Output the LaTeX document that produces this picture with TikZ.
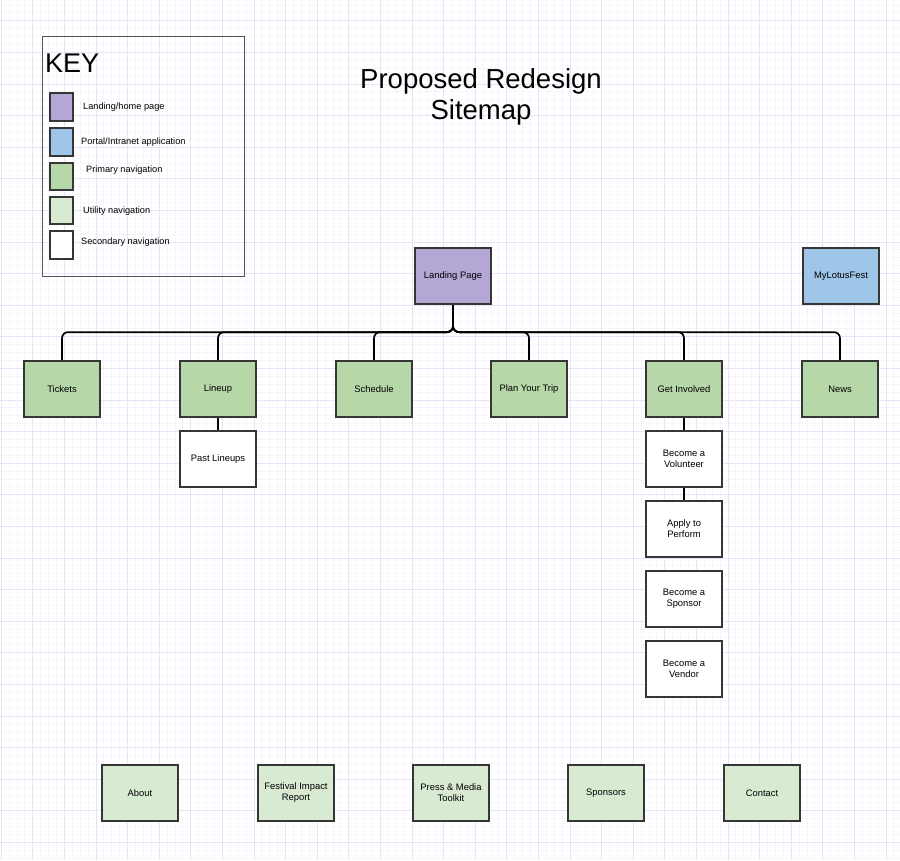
\documentclass[tikz,border=0pt]{standalone}
\usepackage{fontspec}
\setmainfont{Liberation Sans}

\definecolor{landing}{HTML}{B4A7D6}
\definecolor{portal}{HTML}{9FC5E8}
\definecolor{primary}{HTML}{B6D7A8}
\definecolor{utility}{HTML}{D9EAD3}
\definecolor{edge}{HTML}{363636}
\definecolor{gridmin}{HTML}{F6F5FC}
\definecolor{gridmaj}{HTML}{E6E4F6}

\begin{document}
\begin{tikzpicture}[x=1pt,y=-1pt,
  page/.style={draw=edge,line width=1.8pt,minimum width=76.5pt,minimum height=56.5pt,
    inner sep=2pt,align=center,font=\fontsize{9.4}{11}\selectfont},
  swatch/.style={draw=edge,line width=1.8pt,minimum width=23.5pt,minimum height=27.5pt,inner sep=0pt},
  keytext/.style={anchor=west,inner sep=0pt,font=\fontsize{9.2}{10}\selectfont},
  link/.style={line width=1.7pt,rounded corners=6pt}]

\useasboundingbox (0,0) rectangle (900,860);
\fill[white] (0,0) rectangle (900,860);

% grid paper
\def\g {7.9}
\foreach \i in {0,...,114}
  \draw[gridmin,line width=0.5pt] ({1+\g*\i},0) -- ++(0,860);
\foreach \i in {0,...,110}
  \draw[gridmin,line width=0.5pt] (0,{-3.1+\g*\i}) -- ++(900,0);
\foreach \i in {0,...,28}
  \draw[gridmaj,line width=0.6pt] ({1+4*\g*\i},0) -- ++(0,860);
\foreach \i in {0,...,28}
  \draw[gridmaj,line width=0.6pt] (0,{-11+4*\g*\i}) -- ++(900,0);

% key
\draw[edge!85,line width=0.9pt] (42,36) rectangle (244,276);
\node[anchor=base west,inner sep=0pt,font=\fontsize{27}{27}\selectfont] (key) at (45,72) {KEY};
\node[swatch,fill=landing] (kl) at (61.5,107) {};
\node[swatch,fill=portal]  (kp) at (61.5,142) {};
\node[swatch,fill=primary] (kn) at (61.5,176.5) {};
\node[swatch,fill=utility] (ku) at (61.5,210.5) {};
\node[swatch,fill=white]   (ks) at (61.5,245) {};
\node[keytext] (tl) at (83,107.5) {Landing/home page};
\node[keytext] (tp) at (81,142) {Portal/Intranet application};
\node[keytext] (tn) at (86,170.5) {Primary navigation};
\node[keytext] (tu) at (83,211) {Utility navigation};
\node[keytext] (ts) at (81,242) {Secondary navigation};

% title
\node[align=center,font=\fontsize{27.5}{31}\selectfont] (title) at (481,97)
  {Proposed Redesign\\Sitemap};

% top level
\node[page,fill=landing] (lp) at (453,276) {Landing Page};
\node[page,fill=portal] (my) at (841,276) {MyLotusFest};

% primary navigation
\foreach \n/\x/\t in {tk/62/Tickets, lu/218/Lineup, sc/374/Schedule,
    pt/529/Plan Your Trip, gi/684/Get Involved, nw/840/News}
  \node[page,fill=primary] (\n) at (\x,389) {\t};

% secondary navigation
\node[page,fill=white] (pl) at (218,459) {Past Lineups};
\node[page,fill=white] (bv) at (684,459) {Become a\\Volunteer};
\node[page,fill=white] (ap) at (684,529) {Apply to\\Perform};
\node[page,fill=white] (bs) at (684,599) {Become a\\Sponsor};
\node[page,fill=white] (bd) at (684,669) {Become a\\Vendor};

% utility navigation
\foreach \n/\x/\t in {ab/140/About, fi/296/{Festival Impact\\Report},
    pm/451/{Press \& Media\\Toolkit}, sp/606/Sponsors, ct/762/Contact}
  \node[page,fill=utility] (\n) at (\x,793) {\t};

% links
\foreach \n in {tk,lu,sc,pt,gi,nw}
  \draw[link] (lp.south) -- ++(0,27) -| (\n.north);
\draw[link] (lu.south) -- (pl.north);
\draw[link] (gi.south) -- (bv.north);
\draw[link] (bv.south) -- (ap.north);

\end{tikzpicture}
\end{document}
